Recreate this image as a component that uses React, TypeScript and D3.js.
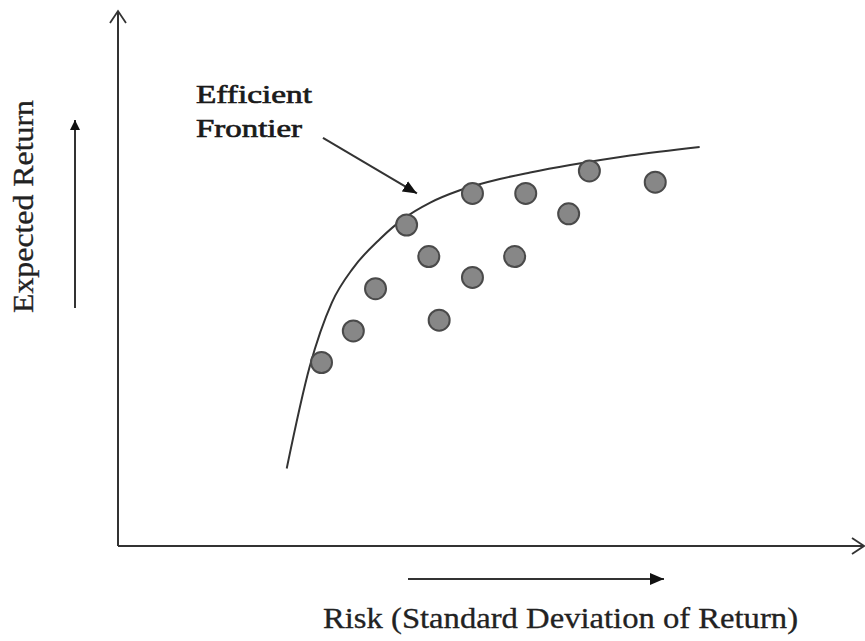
import React from 'react';
import * as d3 from 'd3';

// portfolios (risk, expected return), arbitrary 0-10 units
const portfolioRisk = [2.75, 3.18, 3.48, 3.9, 4.2, 4.34, 4.79, 4.79, 5.51, 5.36, 6.09, 6.37, 7.26];
const portfolioReturn = [3.43, 4.02, 4.81, 6.0, 5.41, 4.22, 6.59, 5.02, 6.59, 5.41, 6.21, 7.01, 6.8];

// efficient frontier curve
const frontierRisk = [2.28, 2.59, 2.89, 3.18, 3.54, 3.86, 4.22, 4.62, 5.16, 5.57, 6.11, 6.92, 7.86];
const frontierReturn = [1.45, 3.35, 4.55, 5.2, 5.74, 6.12, 6.42, 6.65, 6.86, 6.98, 7.12, 7.3, 7.46];

const frontierLabel = ['Efficient', 'Frontier'];
const xLabel = 'Risk (Standard Deviation of Return)';
const yLabel = 'Expected Return';

const W = 865;
const H = 641;

export default function App() {
  const x = d3.scaleLinear().domain([0, 10]).range([118, 858]);
  const y = d3.scaleLinear().domain([0, 10]).range([546, 11]);

  const points = portfolioRisk.map((r, i) => ({ r, ret: portfolioReturn[i] }));
  const frontier = frontierRisk.map((r, i) => [r, frontierReturn[i]] as [number, number]);

  const line = d3
    .line<[number, number]>()
    .x((d) => x(d[0]))
    .y((d) => y(d[1]))
    .curve(d3.curveMonotoneX);

  const ink = '#333';
  const font = '"Liberation Serif", "Times New Roman", serif';

  return (
    <svg
      width={W}
      height={H}
      style={{ position: 'absolute', left: 0, top: 0, background: '#fff' }}
    >
      <defs>
        <marker id="open" markerUnits="userSpaceOnUse" markerWidth={16} markerHeight={20}
          refX={13} refY={9} orient="auto">
          <path d="M1,1 L13,9 L1,17" fill="none" stroke={ink} strokeWidth={1.8} />
        </marker>
        <marker id="solid" markerUnits="userSpaceOnUse" markerWidth={16} markerHeight={14}
          refX={14} refY={6} orient="auto">
          <path d="M0,0 L14,6 L0,12 Z" fill="#111" />
        </marker>
        <marker id="small" markerUnits="userSpaceOnUse" markerWidth={12} markerHeight={12}
          refX={10} refY={5} orient="auto">
          <path d="M0,0 L10,5 L0,10 Z" fill="#111" />
        </marker>
      </defs>

      {/* axes */}
      <line x1={x(0)} y1={y(0)} x2={864} y2={y(0)} stroke={ink} strokeWidth={2} markerEnd="url(#open)" />
      <line x1={x(0)} y1={y(0)} x2={x(0)} y2={11} stroke={ink} strokeWidth={2} markerEnd="url(#open)" />

      {/* direction arrows */}
      <line x1={408} y1={579} x2={664} y2={579} stroke={ink} strokeWidth={2} markerEnd="url(#solid)" />
      <line x1={75} y1={308} x2={75} y2={120} stroke={ink} strokeWidth={2} markerEnd="url(#small)" />

      {/* frontier */}
      <path d={line(frontier) ?? ''} fill="none" stroke={ink} strokeWidth={2} />

      {/* portfolios */}
      {points.map((p, i) => (
        <circle key={i} cx={x(p.r)} cy={y(p.ret)} r={10.5} fill="#878787" stroke="#4a4a4a" strokeWidth={2} />
      ))}

      {/* annotation */}
      <line x1={x(2.77)} y1={y(7.63)} x2={x(4.04)} y2={y(6.59)} stroke={ink} strokeWidth={2} markerEnd="url(#solid)" />
      {frontierLabel.map((t, i) => (
        <text key={t} x={196} y={103 + i * 34} fontFamily={font} fontSize={26} fill="#1a1a1a"
          stroke="#1a1a1a" strokeWidth={0.7}
          textLength={i === 0 ? 116 : 106} lengthAdjust="spacingAndGlyphs">
          {t}
        </text>
      ))}

      {/* axis titles */}
      <text x={323} y={628} fontFamily={font} fontSize={29} fill="#222" stroke="#222" strokeWidth={0.3}
        textLength={475} lengthAdjust="spacingAndGlyphs">
        {xLabel}
      </text>
      <text transform="translate(33,313) rotate(-90)" fontFamily={font} fontSize={29} fill="#222"
        stroke="#222" strokeWidth={0.3}
        textLength={213} lengthAdjust="spacingAndGlyphs">
        {yLabel}
      </text>
    </svg>
  );
}
